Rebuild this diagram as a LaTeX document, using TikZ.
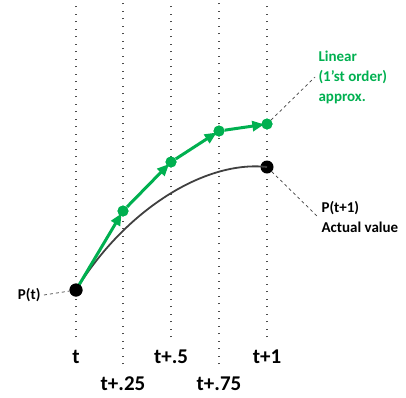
\documentclass[tikz,border=0pt]{standalone}
\usepackage{fontspec}
\setmainfont{Carlito}
\usepackage{tikz}
\usetikzlibrary{arrows.meta,positioning}
\definecolor{apxgreen}{RGB}{0,176,80}
\definecolor{curvegray}{RGB}{64,64,64}

\begin{document}
\begin{tikzpicture}[x=1pt,y=-1pt,
	grid/.style={line width=1.3pt,dash pattern=on 1.3pt off 6.2pt,gray!60!black,shorten <=8pt},
	lead/.style={dashed,line width=0.7pt,gray!50!black},
	greendot/.style={circle,fill=apxgreen,inner sep=0pt,minimum size=11pt},
	blackdot/.style={circle,fill=black,inner sep=0pt,minimum size=13pt},
	step line/.style={apxgreen,line width=3pt,shorten >=-3pt,-{Triangle[length=12pt,width=10pt]}},
	tick/.style={font=\fontsize{21}{24}\selectfont\bfseries,text height=14pt,text depth=0pt},
	lbl/.style={font=\fontsize{15}{20}\selectfont\bfseries,align=left}]
	\useasboundingbox (0,0) rectangle (406,397);
	% time labels
	\node[tick] (lt) at (76,356) {t};
	\node[tick] (lt1) at (123,383) {t+.25};
	\node[tick] (lt2) at (171,356) {t+.5};
	\node[tick] (lt3) at (219,383) {t+.75};
	\node[tick] (lt4) at (267,356) {t+1};
	\foreach \n in {lt,lt1,lt2,lt3,lt4}
		\draw[grid] (\n.north) -- (\n.north |- 0,0);
	% points
	\node[blackdot] (p0) at (76,290) {};
	\node[blackdot] (p1) at (267,167) {};
	\node[greendot] (g1) at (123,211) {};
	\node[greendot] (g2) at (171,162) {};
	\node[greendot] (g3) at (219,131) {};
	\node[greendot] (g4) at (267,124) {};
	% actual curve
	\draw[curvegray,line width=1.8pt] (p0.center) .. controls (125,210) and (205,160) .. (p1.center);
	% linear steps
	\draw[step line] (p0.center) -- (g1);
	\draw[step line] (g1) -- (g2);
	\draw[step line] (g2) -- (g3);
	\draw[step line] (g3) -- (g4);
	\node[greendot] at (g1) {};
	\node[greendot] at (g2) {};
	\node[greendot] at (g3) {};
	\node[greendot] at (g4) {};
	\node[blackdot] at (p0) {};
	% labels
	\node[lbl,anchor=east] (pt) at (44,295) {P(t)};
	\node[lbl,anchor=west,text=apxgreen] (lin) at (315,77) {Linear\\(1'st order)\\approx.};
	\node[lbl,anchor=west] (act) at (318,217) {P(t+1)\\Actual value};
	\draw[lead] (pt.east) -- (p0);
	\draw[lead] (g4) -- (lin.west);
	\draw[lead] (p1) -- (act.west);
\end{tikzpicture}
\end{document}
